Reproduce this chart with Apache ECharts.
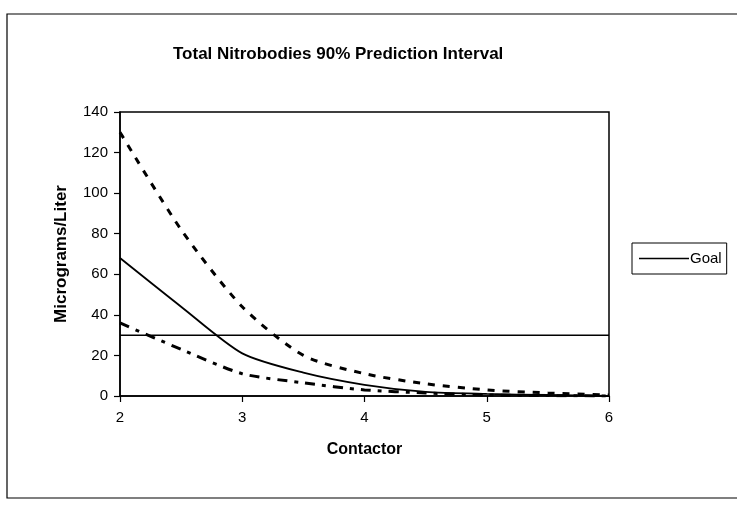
<!DOCTYPE html>
<html>
<head>
<meta charset="utf-8">
<script src="https://cdn.jsdelivr.net/npm/echarts@6/dist/echarts.min.js"></script>
<style>
  html, body { margin: 0; padding: 0; background: #fff; }
  #main { width: 737px; height: 506px; }
</style>
</head>
<body>
<div id="main"></div>
<script>
var contactor = [2, 2.5, 3, 3.5, 4, 4.5, 5, 5.5, 6];
var upperBound = [130, 82, 44, 20, 11, 6, 3, 1.5, 0.5];
var predicted = [68, 44, 21, 11.5, 5.5, 2, 1, 0.5, 0];
var lowerBound = [36, 23, 11, 6.5, 3, 1.5, 0.5, 0.2, 0];
var goalX = [2, 6];
var goalY = [30, 30];

function pairs(xs, ys) {
    return xs.map(function (x, i) { return [x, ys[i]]; });
}

var font = 'Liberation Sans';

var option = {
    animation: false,
    textStyle: { fontFamily: font, color: '#000' },
    title: {
        text: 'Total Nitrobodies 90% Prediction Interval',
        left: 168,
        top: 41,
        textStyle: { fontFamily: font, fontSize: 17, fontWeight: 'bold', color: '#000' }
    },
    legend: {
        data: [{ name: 'Goal', icon: 'rect' }],
        left: 632,
        top: 243,
        orient: 'vertical',
        borderColor: '#000',
        borderWidth: 1,
        borderRadius: 0,
        padding: [8, 5, 8, 7],
        itemWidth: 50,
        itemHeight: 1.5,
        itemGap: 0,
        textStyle: { fontFamily: font, fontSize: 15, color: '#000', padding: [0, 0, 0, -4] }
    },
    grid: {
        left: 120,
        right: 128,
        top: 112,
        bottom: 110,
        show: true,
        borderColor: '#000',
        borderWidth: 1.5
    },
    xAxis: {
        type: 'value',
        min: 2,
        max: 6,
        interval: 1,
        name: 'Contactor',
        nameLocation: 'middle',
        nameGap: 46,
        nameTextStyle: { fontFamily: font, fontSize: 16, fontWeight: 'bold', color: '#000' },
        axisLine: { show: true, lineStyle: { color: '#000', width: 1.5 } },
        axisTick: { show: true, length: 6, lineStyle: { color: '#000', width: 1.2 } },
        axisLabel: { fontSize: 15, color: '#000', margin: 14 },
        splitLine: { show: false }
    },
    yAxis: {
        type: 'value',
        min: 0,
        max: 140,
        interval: 20,
        name: 'Micrograms/Liter',
        nameLocation: 'middle',
        nameRotate: 90,
        nameGap: 50,
        nameTextStyle: { fontFamily: font, fontSize: 17, fontWeight: 'bold', color: '#000' },
        axisLine: { show: true, lineStyle: { color: '#000', width: 1.5 } },
        axisTick: { show: true, length: 6, lineStyle: { color: '#000', width: 1.2 } },
        axisLabel: { fontSize: 15, color: '#000', margin: 12 },
        splitLine: { show: false }
    },
    graphic: [{
        type: 'rect',
        shape: { x: 7, y: 14, width: 740, height: 484 },
        style: { fill: 'none', stroke: '#000', lineWidth: 1.2 },
        silent: true
    }],
    series: [
        {
            name: 'Upper',
            type: 'line',
            data: pairs(contactor, upperBound),
            showSymbol: false,
            symbol: 'none',
            smooth: 0.25,
            lineStyle: { color: '#000', width: 3, type: [7, 8] }
        },
        {
            name: 'Predicted',
            type: 'line',
            data: pairs(contactor, predicted),
            showSymbol: false,
            symbol: 'none',
            smooth: 0.25,
            lineStyle: { color: '#000', width: 1.8, type: 'solid' }
        },
        {
            name: 'Lower',
            type: 'line',
            data: pairs(contactor, lowerBound),
            showSymbol: false,
            symbol: 'none',
            smooth: 0.25,
            lineStyle: { color: '#000', width: 3, type: [10, 7, 4, 7] }
        },
        {
            name: 'Goal',
            type: 'line',
            data: pairs(goalX, goalY),
            showSymbol: false,
            symbol: 'none',
            itemStyle: { color: '#000' },
            lineStyle: { color: '#000', width: 1.5 }
        }
    ]
};

var chart = echarts.init(document.getElementById('main'));
chart.setOption(option);
window.addEventListener('resize', function () { chart.resize(); });
</script>
</body>
</html>
